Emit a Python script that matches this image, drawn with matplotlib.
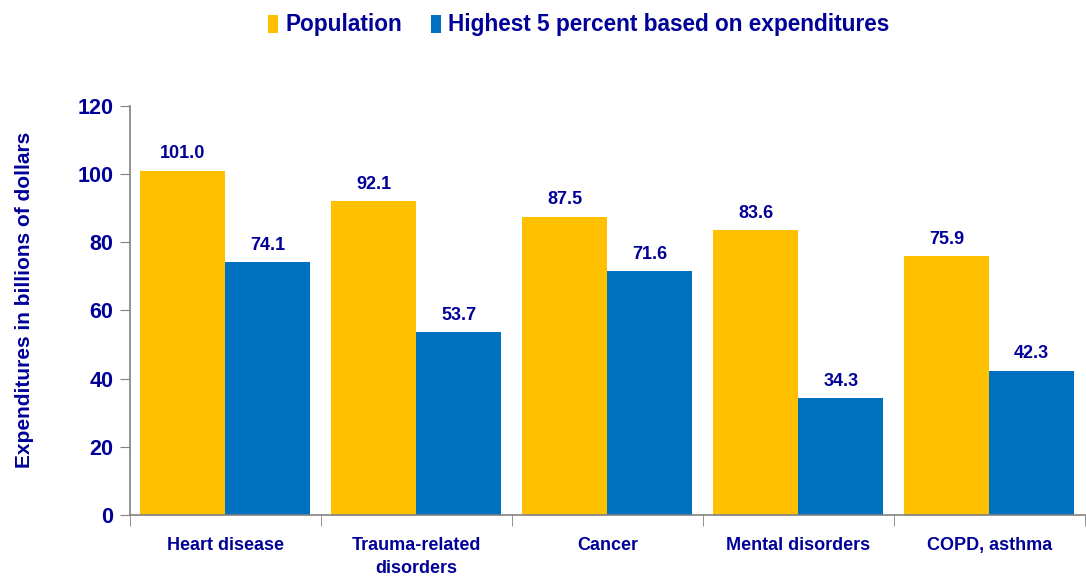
import matplotlib.pyplot as plt
import numpy as np
from matplotlib import font_manager

# Datos
categorias = ['Heart disease', 'Trauma-related\ndisorders', 'Cancer', 'Mental disorders', 'COPD, asthma']
poblacion = [101.0, 92.1, 87.5, 83.6, 75.9]
top5 = [74.1, 53.7, 71.6, 34.3, 42.3]
series = ['Population', 'Highest 5 percent based on expenditures']

amarillo = '#FFC000'
azul = '#0070C0'
texto = '#000099'

nombres = {f.name for f in font_manager.fontManager.ttflist}
fuente = 'Liberation Sans Narrow' if 'Liberation Sans Narrow' in nombres else 'Liberation Sans'
plt.rcParams['font.family'] = [fuente, 'DejaVu Sans']
plt.rcParams['font.weight'] = 'bold'

fig = plt.figure(figsize=(10.86, 5.77), dpi=100)
ax = fig.add_axes([0.1197, 0.1075, 0.879, 0.709])

x = np.arange(len(categorias))
ancho = 0.445
b1 = ax.bar(x - ancho / 2, poblacion, ancho, color=amarillo, label=series[0])
b2 = ax.bar(x + ancho / 2, top5, ancho, color=azul, label=series[1])

for barras in (b1, b2):
    for b in barras:
        ax.annotate(f'{b.get_height():.1f}', (b.get_x() + b.get_width() / 2, b.get_height()),
                    xytext=(0, 6), textcoords='offset points', ha='center', va='bottom',
                    fontsize=13, color=texto, fontweight='bold')

ax.set_xlim(-0.5, len(categorias) - 0.5)
ax.set_ylim(0, 120)
ax.set_yticks(range(0, 121, 20))
ax.set_xticks(x)
ax.set_xticklabels(categorias, fontsize=13, color=texto, fontweight='bold', linespacing=1.45)
ax.set_xticks(np.arange(-0.5, len(categorias), 1), minor=True)
ax.tick_params(axis='x', which='major', length=0, pad=16)
ax.tick_params(axis='x', which='minor', length=8, color='#808080')
ax.tick_params(axis='y', length=7, color='#808080', labelsize=15.5, labelcolor=texto, pad=5)
for lbl in ax.get_yticklabels():
    lbl.set_fontweight('bold')

ax.set_ylabel('Expenditures in billions of dollars', fontsize=15, color=texto, fontweight='bold')
ax.yaxis.set_label_coords(-0.101, 0.525)

for lado in ['top', 'right']:
    ax.spines[lado].set_visible(False)
for lado in ['left', 'bottom']:
    ax.spines[lado].set_color('#808080')
    ax.spines[lado].set_linewidth(1.2)

fig.legend(loc='upper center', bbox_to_anchor=(0.533, 1.012), ncol=2, frameon=False,
           prop={'size': 16.3, 'weight': 'bold'}, labelcolor=texto,
           handlelength=0.45, handleheight=0.85, handletextpad=0.3, columnspacing=1.3)

plt.savefig('out.png', dpi=100)
